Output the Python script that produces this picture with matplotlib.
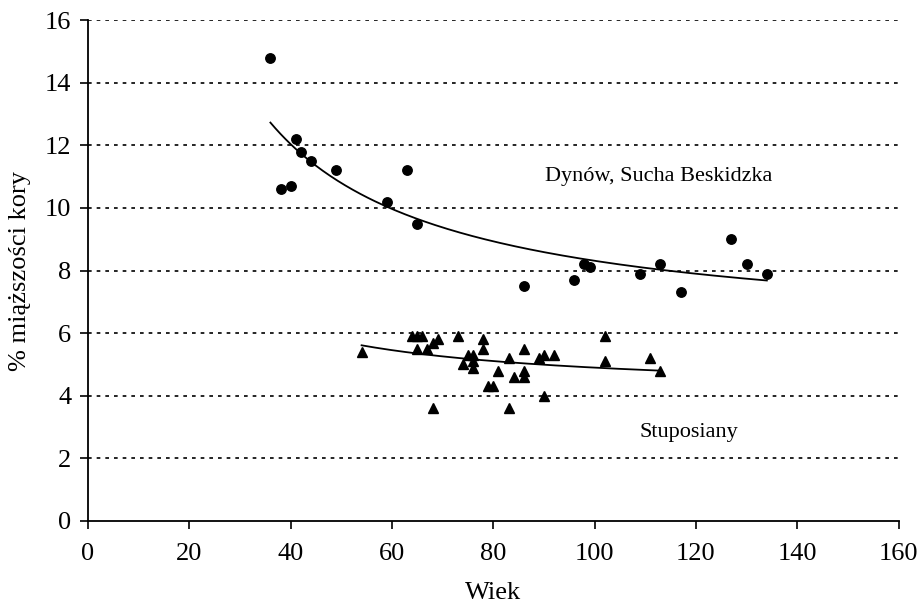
import matplotlib
matplotlib.use('Agg')
import matplotlib.pyplot as plt
import numpy as np

# Dynów, Sucha Beskidzka (circles)
wiek_ds = [36, 38, 40, 41, 42, 44, 49, 59, 63, 65, 86, 96, 98, 99, 109, 113, 117, 127, 130, 134]
kora_ds = [14.8, 10.6, 10.7, 12.2, 11.8, 11.5, 11.2, 10.2, 11.2, 9.5, 7.5, 7.7, 8.2, 8.1, 7.9, 8.2, 7.3, 9.0, 8.2, 7.9]

# Stuposiany (triangles)
wiek_st = [54, 64, 65, 66, 65, 67, 68, 69, 73, 68, 74, 75, 76, 76, 76, 78, 78, 79, 80, 81,
           83, 83, 84, 86, 86, 86, 89, 90, 92, 90, 102, 102, 111, 113]
kora_st = [5.4, 5.9, 5.9, 5.9, 5.5, 5.5, 5.7, 5.8, 5.9, 3.6, 5.0, 5.3, 5.3, 5.1, 4.9, 5.8, 5.5, 4.3, 4.3, 4.8,
           5.2, 3.6, 4.6, 5.5, 4.8, 4.6, 5.2, 5.3, 5.3, 4.0, 5.9, 5.1, 5.2, 4.8]

x_ticks = [0, 20, 40, 60, 80, 100, 120, 140, 160]
y_ticks = [0, 2, 4, 6, 8, 10, 12, 14, 16]

plt.rcParams['font.family'] = ['Liberation Serif', 'DejaVu Serif']


def trend(x, y):
    # least squares fit of y = a + b/x, drawn over the range of the data
    x = np.asarray(x, float)
    y = np.asarray(y, float)
    b, a = np.polyfit(1.0 / x, y, 1)
    xs = np.linspace(x.min(), x.max(), 200)
    return xs, a + b / xs


fig = plt.figure(figsize=(9.2, 6.09), dpi=100)
ax = fig.add_axes([0.0957, 0.1445, 0.881, 0.8225])

for yy in y_ticks[1:]:
    ax.axhline(yy, color='black', lw=1.2, ls=(0, (2.2, 3.0)), zorder=1)

xs, ys = trend(wiek_ds, kora_ds)
ax.plot(xs, ys, color='black', lw=1.3, zorder=2)
xs, ys = trend(wiek_st, kora_st)
ax.plot(xs, ys, color='black', lw=1.3, zorder=2)

ax.plot(wiek_ds, kora_ds, 'o', color='black', ms=6.8, ls='none', zorder=3)
ax.plot(wiek_st, kora_st, '^', color='black', ms=7.2, ls='none', zorder=3)

ax.text(90.3, 11.0, 'Dynów, Sucha Beskidzka', fontsize=16, va='center', ha='left')
ax.text(108.9, 2.84, 'Stuposiany', fontsize=16, va='center', ha='left')

ax.set_xlim(0, 160)
ax.set_ylim(0, 16)
ax.set_xticks(x_ticks)
ax.set_yticks(y_ticks)
ax.spines['top'].set_visible(False)
ax.spines['right'].set_visible(False)
ax.spines['left'].set_linewidth(1.3)
ax.spines['bottom'].set_linewidth(1.3)
ax.tick_params(axis='both', direction='out', length=6, width=1.2, labelsize=19)
ax.tick_params(axis='x', pad=10)
ax.tick_params(axis='y', pad=6)

ax.set_xlabel('Wiek', fontsize=19, labelpad=12)
ax.set_ylabel('% miąższości kory', fontsize=19, labelpad=10)

fig.savefig('out.png', dpi=100)
